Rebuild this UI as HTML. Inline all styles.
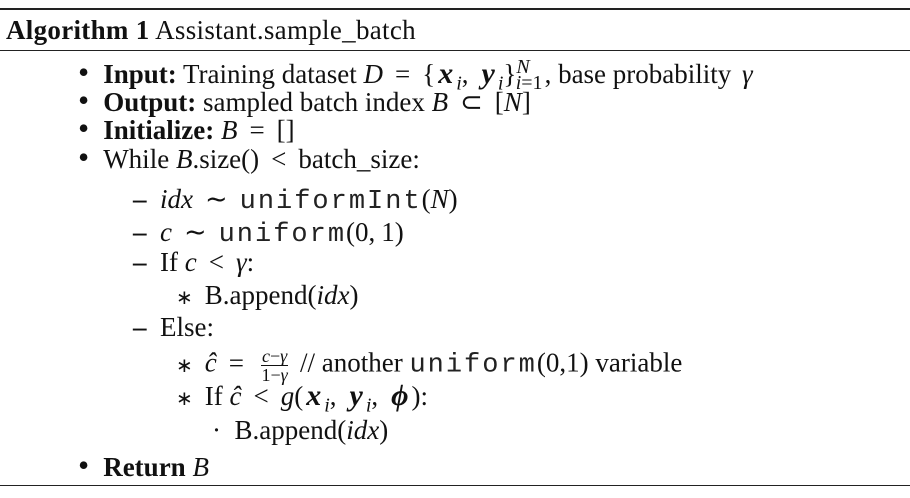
<!DOCTYPE html>
<html><head><meta charset="utf-8"><style>
html,body{margin:0;padding:0;background:#fff;}
#box{position:relative;width:910px;height:498px;overflow:hidden;font-family:"Liberation Serif",serif;font-size:27px;color:#111;}
.r{position:absolute;white-space:nowrap;line-height:27px;}
.rule{position:absolute;left:0;width:910px;background:#222;}
i{font-style:italic;}
.m{font-family:"Liberation Mono",monospace;font-size:27px;letter-spacing:2px;color:#222;}
.bi{font-weight:bold;font-style:italic;font-size:30px;margin:0 3px;}
.op{margin:0 12px;}
.cm{margin-right:10px;}
sub,sup{font-size:20px;line-height:0;}
.bu{font-size:32px;margin-right:14px;}
.st{font-size:20px;margin-right:12px;}
.frac{display:inline-block;vertical-align:middle;text-align:center;font-size:18px;line-height:18px;margin:0 5px;}
.frac span{display:block;}
.frac .n{border-bottom:1px solid #111;padding:0 1px;}
</style></head><body>
<div id="box">
<div class="rule" style="top:8px;height:2px"></div>
<div class="r" style="left:6px;top:17px;letter-spacing:0.3px"><b>Algorithm 1</b> Assistant.sample_batch</div>
<div class="rule" style="top:50px;height:1px"></div>

<div class="r" style="left:78px;top:59px"><span class="bu">•</span><b>Input:</b> Training dataset <i>D</i><span class="op">=</span>{<span class="bi">x</span><sub><i>i</i></sub><span class="cm">,</span><span class="bi">y</span><sub><i>i</i></sub>}<sup><i>N</i></sup><sub style="margin-left:-14px;margin-right:2px"><i>i</i>=1</sub>, base probability <i style="margin-left:4px">γ</i></div>
<div class="r" style="left:78px;top:87px"><span class="bu">•</span><b>Output:</b> sampled batch index <i>B</i><span class="op">⊂</span>[<i>N</i>]</div>
<div class="r" style="left:78px;top:115px"><span class="bu">•</span><b>Initialize:</b> <i>B</i><span class="op">=</span>[]</div>
<div class="r" style="left:78px;top:144px"><span class="bu">•</span>While <i>B</i>.size()<span class="op">&lt;</span>batch_size:</div>

<div class="r" style="left:133px;top:186px"><b>–</b>&nbsp; <i>idx</i><span class="op">∼</span><span class="m">uniformInt</span>(<i>N</i>)</div>
<div class="r" style="left:133px;top:219px"><b>–</b>&nbsp; <i>c</i><span class="op">∼</span><span class="m">uniform</span>(0,<span style="margin-left:6px"></span>1)</div>
<div class="r" style="left:133px;top:249px"><b>–</b>&nbsp; If <i>c</i><span class="op">&lt;</span><i>γ</i>:</div>
<div class="r" style="left:176px;top:282px"><span class="st">∗</span>B.append(<i>idx</i>)</div>
<div class="r" style="left:133px;top:314px"><b>–</b>&nbsp; Else:</div>
<div class="r" style="left:176px;top:347px"><span class="st">∗</span><i>ĉ</i><span class="op">=</span><span class="frac"><span class="n"><i>c</i>−<i>γ</i></span><span>1−<i>γ</i></span></span> // another <span class="m">uniform</span>(0,1) variable</div>
<div class="r" style="left:176px;top:382px"><span class="st">∗</span>If <i>ĉ</i><span class="op">&lt;</span><i>g</i>(<span class="bi">x</span><sub><i>i</i></sub><span class="cm">,</span><span class="bi">y</span><sub><i>i</i></sub><span class="cm">,</span><span class="bi">ϕ</span>):</div>
<div class="r" style="left:212px;top:417px">·&nbsp; B.append(<i>idx</i>)</div>

<div class="r" style="left:78px;top:452px"><span class="bu">•</span><b>Return</b> <i>B</i></div>
<div class="rule" style="top:485px;height:1px"></div>
</div>
</body></html>
